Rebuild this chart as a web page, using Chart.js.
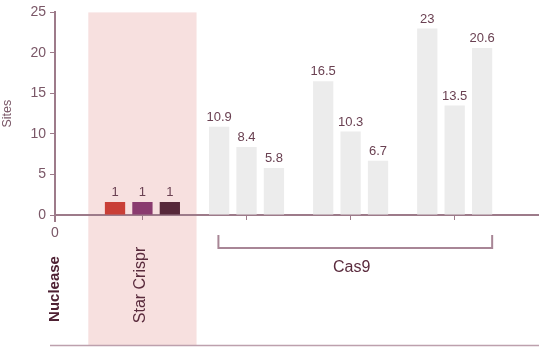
<!DOCTYPE html>
<html>
<head>
<meta charset="utf-8">
<script src="https://cdn.jsdelivr.net/npm/chart.js@4.4.1/dist/chart.umd.min.js"></script>
<style>
  html, body { margin: 0; padding: 0; background: #fff; }
  canvas { display: block; }
</style>
</head>
<body>
<canvas id="sitesChart" width="539" height="347"></canvas>
<script>
// groups along the x axis (Star Crispr, then three Cas9 guides)
const groups = ["Star Crispr", "Cas9 A", "Cas9 B", "Cas9 C"];
const siteCounts1 = [1, 10.9, 16.5, 23];
const siteCounts2 = [1, 8.4, 10.3, 13.5];
const siteCounts3 = [1, 5.8, 6.7, 20.6];
const yTicks = [0, 5, 10, 15, 20, 25];

const starColors = ["#c93f37", "#8a3b6f", "#57283a"];
const cas9Color = "#ececec";
const axisColor = "#9d7b8a";
const tickText = "#7a5767";
const labelText = "#6a4152";
const darkText = "#4e2133";
const FONT = "'Liberation Sans', Arial, sans-serif";

// x runs over group positions 1..4; a little space is left before the first
const xMin = 0.16;
const xMax = 4.81;

function colorsFor(idx) {
  return groups.map((g, i) => (i === 0 ? starColors[idx] : cas9Color));
}

const series = [siteCounts1, siteCounts2, siteCounts3].map((vals, idx) => ({
  label: "Series " + (idx + 1),
  data: vals.map((v, i) => ({ x: i + 1, y: v })),
  backgroundColor: colorsFor(idx),
  borderWidth: 0,
  minBarLength: 13,
  categoryPercentage: 0.79,
  barPercentage: 0.74,
}));

const decorations = {
  id: "decorations",
  beforeDraw(chart) {
    const { ctx, chartArea, scales } = chart;
    const x = scales.x;
    // shaded band behind Star Crispr
    const left = x.getPixelForValue(1 - 0.52);
    const right = x.getPixelForValue(1 + 0.52);
    ctx.save();
    ctx.fillStyle = "#f7e0df";
    ctx.fillRect(left, chartArea.top, right - left, 345 - chartArea.top);
    ctx.restore();
  },
  afterDatasetsDraw(chart) {
    const { ctx } = chart;
    ctx.save();
    ctx.font = "13px " + FONT;
    ctx.fillStyle = labelText;
    ctx.textAlign = "center";
    ctx.textBaseline = "alphabetic";
    chart.data.datasets.forEach((ds, di) => {
      const meta = chart.getDatasetMeta(di);
      meta.data.forEach((bar, i) => {
        ctx.fillText(String(ds.data[i].y), bar.x, bar.y - 6);
      });
    });
    ctx.restore();
  },
  afterDraw(chart) {
    const { ctx, chartArea, scales } = chart;
    const x = scales.x;
    const base = chartArea.bottom;
    ctx.save();

    // y axis runs a little below the baseline
    ctx.strokeStyle = axisColor;
    ctx.lineWidth = 2;
    ctx.beginPath();
    ctx.moveTo(chartArea.left, base);
    ctx.lineTo(chartArea.left, base + 7);
    ctx.stroke();

    ctx.fillStyle = tickText;
    ctx.font = "14px " + FONT;
    ctx.textAlign = "center";
    ctx.textBaseline = "middle";
    ctx.fillText("0", chartArea.left, base + 18);

    // rotated labels
    ctx.save();
    ctx.translate(chartArea.left, 289);
    ctx.rotate(-Math.PI / 2);
    ctx.font = "bold 15px " + FONT;
    ctx.fillStyle = darkText;
    ctx.fillText("Nuclease", 0, 0);
    ctx.restore();

    ctx.save();
    ctx.translate(x.getPixelForValue(1) - 2, 285);
    ctx.rotate(-Math.PI / 2);
    ctx.font = "16px " + FONT;
    ctx.fillStyle = "#5a2b3d";
    ctx.fillText("Star Crispr", 0, 0);
    ctx.restore();

    // bracket under the Cas9 groups
    const bl = x.getPixelForValue(1.73);
    const br = x.getPixelForValue(4.36);
    ctx.strokeStyle = "#a88696";
    ctx.lineWidth = 2;
    ctx.beginPath();
    ctx.moveTo(bl, 235);
    ctx.lineTo(bl, 248);
    ctx.lineTo(br, 248);
    ctx.lineTo(br, 235);
    ctx.stroke();

    ctx.font = "16px " + FONT;
    ctx.fillStyle = "#5a2b3d";
    ctx.fillText("Cas9", x.getPixelForValue(3) + 1, 268);

    // rule along the bottom
    ctx.strokeStyle = "#bda0ad";
    ctx.lineWidth = 1.5;
    ctx.beginPath();
    ctx.moveTo(50, 345.5);
    ctx.lineTo(chart.width, 345.5);
    ctx.stroke();

    ctx.restore();
  },
};

new Chart(document.getElementById("sitesChart"), {
  type: "bar",
  data: { datasets: series },
  options: {
    responsive: false,
    animation: false,
    layout: { padding: { top: 8, right: 0, bottom: 0, left: 0 } },
    plugins: {
      legend: { display: false },
      tooltip: { enabled: false },
    },
    scales: {
      x: {
        type: "linear",
        min: xMin,
        max: xMax,
        offset: false,
        afterBuildTicks(scale) {
          scale.ticks = groups.map((g, i) => ({ value: i + 1 }));
        },
        afterFit(scale) {
          scale.height = 132;
        },
        ticks: { display: false },
        grid: {
          offset: false,
          drawOnChartArea: false,
          drawTicks: true,
          tickLength: 5,
          color: axisColor,
          lineWidth: 1,
        },
        border: { color: axisColor, width: 2 },
      },
      y: {
        min: 0,
        max: 25,
        afterBuildTicks(scale) {
          scale.ticks = yTicks.map((v) => ({ value: v }));
        },
        afterFit(scale) {
          scale.width = 55;
        },
        ticks: {
          color: tickText,
          padding: 4,
          font: { family: FONT, size: 14 },
        },
        grid: {
          drawOnChartArea: false,
          drawTicks: true,
          tickLength: 5,
          color: axisColor,
          lineWidth: 1,
        },
        border: { color: axisColor, width: 2 },
        title: {
          display: true,
          text: "Sites",
          color: tickText,
          padding: 0,
          font: { family: FONT, size: 12.5 },
        },
      },
    },
  },
  plugins: [decorations],
});
</script>
</body>
</html>
